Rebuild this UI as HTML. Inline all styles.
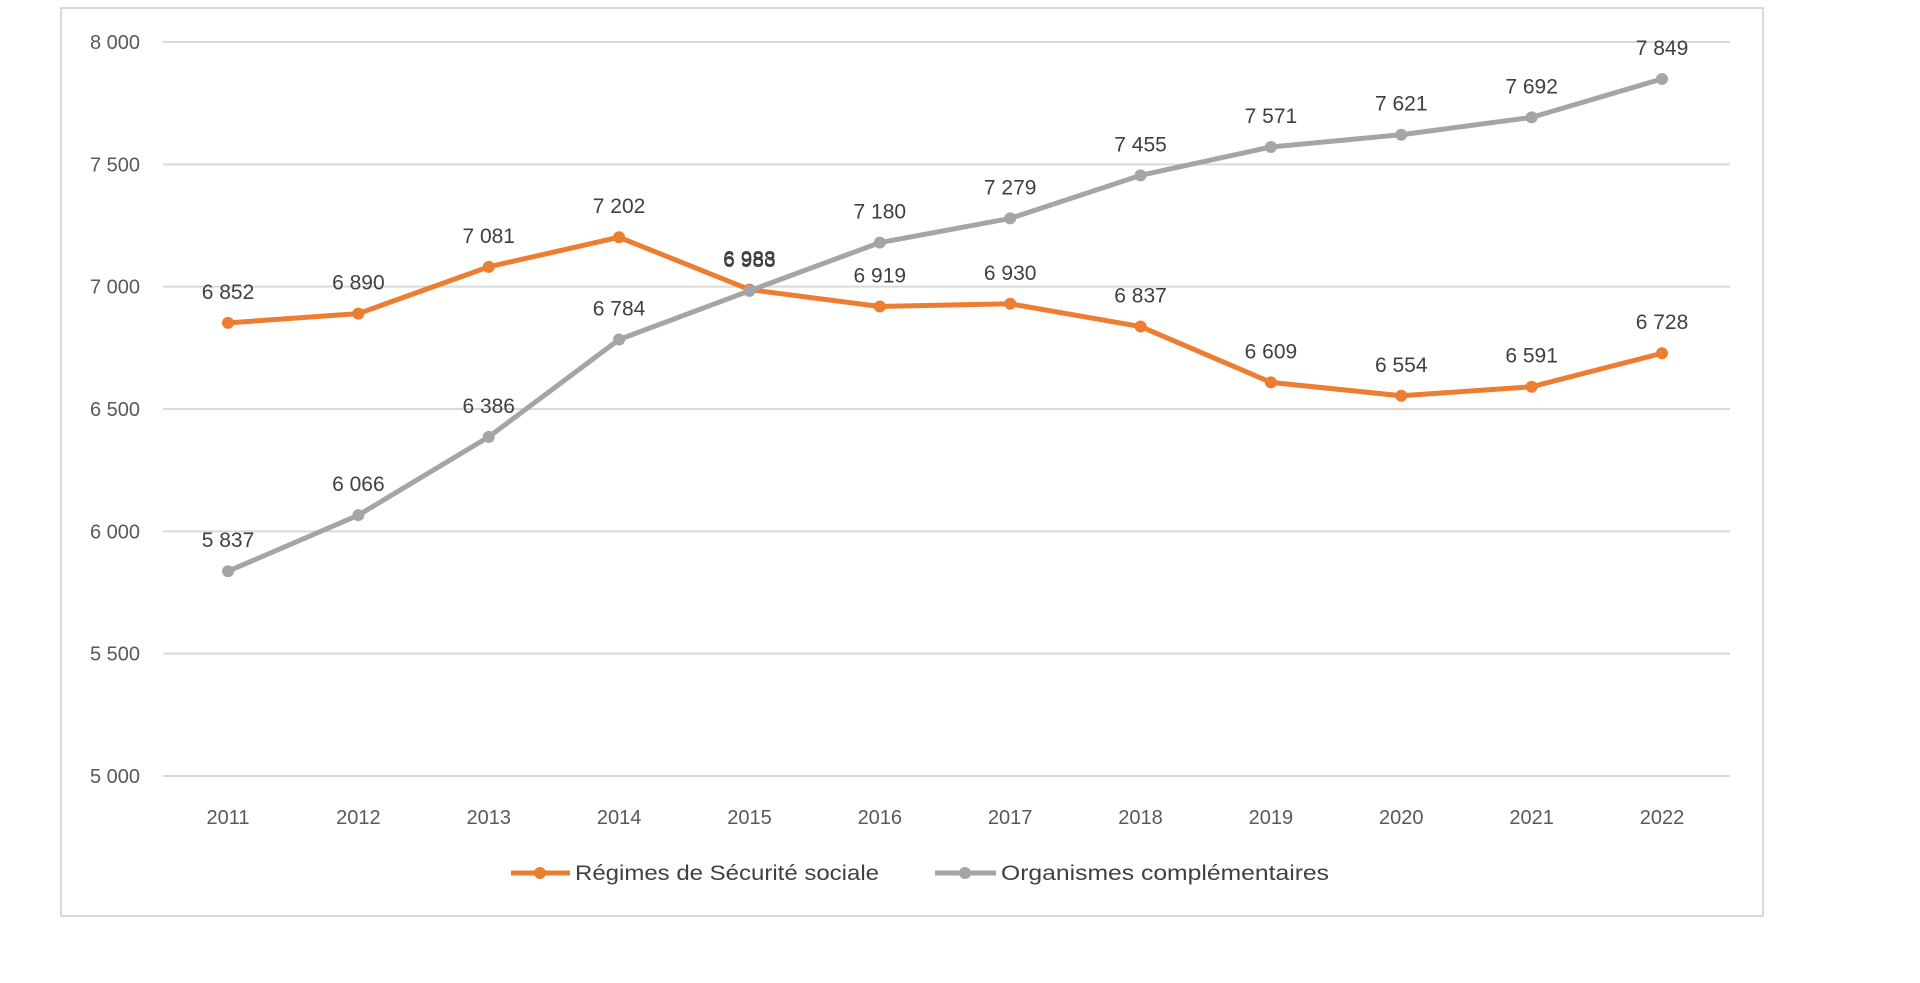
<!DOCTYPE html>
<html><head><meta charset="utf-8"><style>
body{margin:0;background:#fff;width:1920px;height:978px;overflow:hidden;font-family:"Liberation Sans",sans-serif}
</style></head><body>
<svg id="chart" width="1920" height="978">
<rect x="61" y="8" width="1702" height="908" fill="#fff" stroke="#d9d9d9" stroke-width="2"/>
<g id="grid"></g><g id="lines"></g><g id="labels"></g>
<g>
<g>
<line x1="511" y1="873" x2="570" y2="873" stroke="#ed7d31" stroke-width="5"/><circle cx="540" cy="873" r="6" fill="#ed7d31"/>
<text x="575" y="880" font-size="21" fill="#404040" textLength="304" lengthAdjust="spacingAndGlyphs">Régimes de Sécurité sociale</text></g>
<g>
<line x1="935" y1="873" x2="996" y2="873" stroke="#a5a5a5" stroke-width="5"/><circle cx="965" cy="873" r="6" fill="#a5a5a5"/>
<text x="1001" y="880" font-size="21" fill="#404040" textLength="328" lengthAdjust="spacingAndGlyphs">Organismes complémentaires</text></g>
</g>
</svg>
<script>
const years=["2011","2012","2013","2014","2015","2016","2017","2018","2019","2020","2021","2022"];
const secu=[6852,6890,7081,7202,6988,6919,6930,6837,6609,6554,6591,6728];
const compl=[5837,6066,6386,6784,6983,7180,7279,7455,7571,7621,7692,7849];
const yTicks=[5000,5500,6000,6500,7000,7500,8000];
const NS="http://www.w3.org/2000/svg";
const x=i=>228+i*(1662-228)/11;
const y=v=>776-(v-5000)/3000*(776-42);
const fmt=v=>String(v).replace(/\B(?=(\d{3})+(?!\d))/g," ");
function mk(t,a,p){const e=document.createElementNS(NS,t);for(const k in a)e.setAttribute(k,a[k]);p.appendChild(e);return e;}
const grid=document.getElementById('grid'),lines=document.getElementById('lines'),labels=document.getElementById('labels');
yTicks.forEach(v=>{
 const l=mk('line',{x1:163,x2:1730,y1:y(v),y2:y(v),stroke:'#d9d9d9','stroke-width':2},grid);
 
 
 const t=mk('text',{x:140,y:y(v)+7,'font-size':20,fill:'#595959','text-anchor':'end'},grid);
 t.textContent=fmt(v);
 
 
});
years.forEach((yr,i)=>{
 const t=mk('text',{x:x(i),y:824,'font-size':20,fill:'#595959','text-anchor':'middle'},grid);
 t.textContent=yr;
 
 
});
function series(vals,color,name){
 const p=mk('polyline',{points:vals.map((v,i)=>x(i)+','+y(v)).join(' '),fill:'none',stroke:color,'stroke-width':5,'stroke-linejoin':'round'},lines);
 
 
 vals.forEach((v,i)=>{
  const c=mk('circle',{cx:x(i),cy:y(v),r:6,fill:color},lines);
  
  
  const t=mk('text',{x:x(i),y:y(v)-24,'font-size':21,fill:'#404040','text-anchor':'middle'},labels);
  t.textContent=fmt(v);
  
  
 });
}
series(secu,'#ed7d31','securite-sociale');
series(compl,'#a5a5a5','complementaires');
</script>
</body></html>
